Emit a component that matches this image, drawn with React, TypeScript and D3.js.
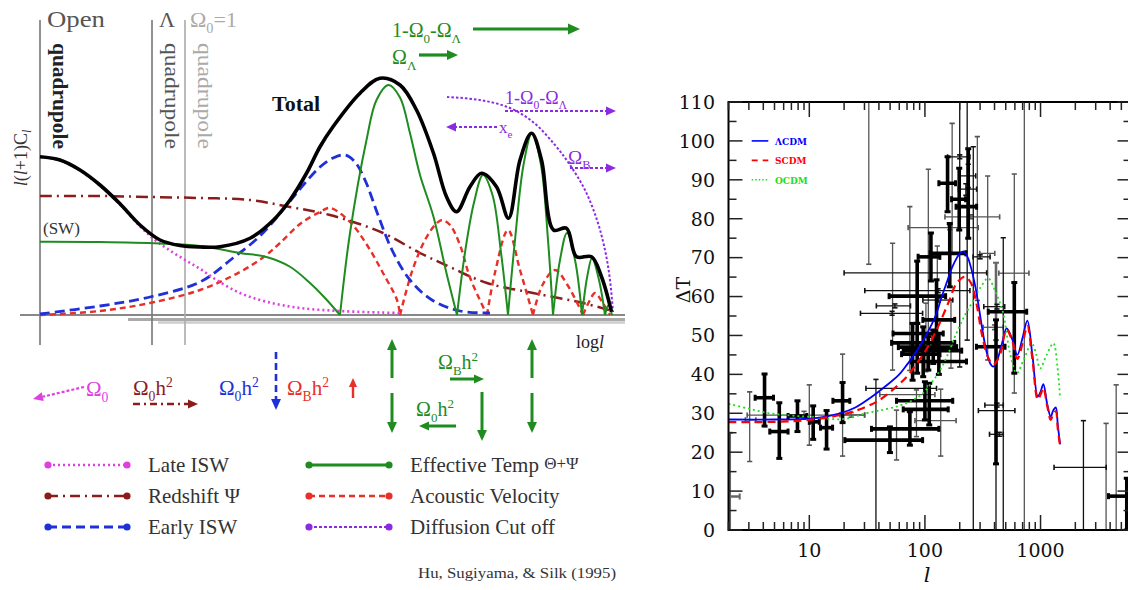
import React from 'react';
import * as d3 from 'd3';

const W = 1128;
const H = 590;

// ================= LEFT PANEL: schematic (Hu, Sugiyama & Silk 1995) =================
// x = log l (arbitrary units), y = l(l+1)C_l (arbitrary units)
const totalCurve = [[0,63.3],[4,62],[8,58],[12,52],[16,44.5],[20,36],[24,30],[28,27.8],[32,27.2],[36,27.3],[42,30.7],[46.7,38],[50,46],[53.3,56.7],[56,67.3],[58.6,75.3],[64,88.7],[68,94.7],[72,92],[75.3,82],[78.7,64.7],[81.3,47.3],[83.3,41.3],[86,51.3],[88.3,56.7],[91.3,51.3],[93.7,38.7],[96,62],[98.3,72.7],[100.3,62],[102.7,34],[105.3,34.7],[107.3,23.3],[110.3,23.3],[112.3,15.3],[114.3,1.3]];
const lateISW = [[0,63.2],[4,61.8],[8,57.8],[12,51.8],[16,44.2],[20,35.5],[23,30],[26,25.8],[29.2,21.8],[32,18.5],[35.3,14],[40,8.8],[45.3,5.3],[52,2.8],[60,1.6],[68,1],[72,0.8]];
const redshiftPsi = [[0,47.6],[12,47.6],[22,47.2],[32,46.8],[42,46],[50,43.2],[58,40],[68.6,32.8],[76,24.8],[82,19.2],[89.4,12.8],[98.6,8.8],[108.6,4.8],[114.4,1.6]];
const earlyISW = [[0,0.4],[12,3.6],[22,7.2],[32,13.2],[38.6,22.8],[44,31.6],[49.4,44],[53,52.8],[56,59.2],[58.6,62.8],[61,64],[63,61.2],[65,54],[67.6,40],[70.4,26],[74,14],[78.4,6],[84,1.6],[90,0.8]];
const effectiveTemp = [[0,29.3],[12,29.2],[24,28.6],[32,27.6],[40,24.8],[45.3,23.2],[50,19.3],[54,12.8],[57,6.8],[60,0],[62,32.8],[65.3,70],[67.3,86],[69.7,92],[72,87],[74,72.7],[76,56],[78.7,39.3],[81.3,16.7],[83.4,0],[85,25],[86.8,45],[88.6,56],[90.5,48],[92.2,25],[93.6,0],[95,30],[96.7,60],[98.4,72.8],[100.2,60],[101.6,30],[102.6,0],[104,22],[105.4,32.8],[107,22],[108.4,0],[109.5,16],[110.4,22.8],[111.8,14],[113,0],[113.7,4],[114.4,0]];
const acousticVelocity = [[0,0],[12,1.6],[22,4.8],[32,10],[40,17.2],[45,23.6],[48,28.8],[52,36.4],[56,41.2],[58,42.8],[62,37.2],[65.4,28],[68.6,16.8],[71.4,6],[72,0],[74.5,18],[77,30],[79,36],[80.4,38],[82,36],[84,28],[86,15],[89.4,0],[91,17],[93.6,34],[96,18],[98.6,0],[100.5,12],[103,18],[105.5,12],[108.6,0],[110,6],[111,8.8],[112.5,5],[114,0]];
const diffusionCutoff = [[81.4,87.2],[88,86],[94,82.8],[98.6,77.2],[103,68],[106,60],[109,50],[111.4,38],[113,26],[114,14],[114.6,1.2]];
const quadrupoleAt = [0, 22.4, 29];
const quadrupoleColors = ['#222', '#555', '#aaa'];
const legendLeftNames = ['Late ISW', 'Redshift Ψ', 'Early ISW'];
const legendRightNames = ['Effective Temp ', 'Acoustic Velocity', 'Diffusion Cut off'];

const C_MAG = '#e040e0';
const C_BRN = '#8b1c1c';
const C_BLU = '#2030d8';
const C_GRN = '#1e8c1e';
const C_RED = '#e63028';
const C_PUR = '#8a2be2';

// ================= RIGHT PANEL: CMB ΔT vs l =================
const lDomain = [2, 6000];
const tDomain = [0, 110];
const xTickLabels = [10, 100, 1000];
const modelNames = ['ΛCDM', 'SCDM', 'OCDM'];
const modelColors = ['#0000ff', '#ff0000', '#22dd22'];

const lcdmCurve = [[2,28.4],[5,28.4],[10,28.6],[18.4,30],[25,31.5],[35.7,34.5],[45,36.8],[60,40],[70,42.5],[85,46],[100,49.5],[115,53],[126,55.7],[140,60],[154,63.5],[175,68],[200,71],[215,71.6],[235,70],[250,67.5],[271,63],[290,58],[310,52.5],[340,46],[370,42.6],[390,42],[420,43.5],[460,47.5],[509,51.8],[570,49],[630,45],[700,49.5],[769,53.8],[850,45],[946,34.3],[1000,35.5],[1058,37.5],[1140,32.5],[1225,29.1],[1290,30.8],[1354,31.5],[1410,27],[1476,22]];
const scdmCurve = [[2,27.7],[5,27.8],[10,28.3],[20,29.8],[30,31.5],[40,33.3],[60,37.5],[74,40.3],[85,42.8],[100,45.8],[126,51.4],[160,58.5],[188,63.4],[222,65.1],[250,63.5],[280,58],[310,50.5],[350,44.5],[390,42.5],[445,45],[509,51.5],[570,48.5],[630,44],[700,48],[769,52.5],[850,44],[946,33.5],[1000,34.8],[1058,36.5],[1140,32],[1225,28.3],[1290,29.8],[1354,30.5],[1410,26],[1476,21.5]];
const ocdmCurve = [[2,32.4],[3,31.2],[4.5,30],[7,29.4],[10,29.1],[19.5,28.5],[31,30],[45,31],[61,32],[80,33.5],[96,35.1],[115,38],[135,41],[160,45.5],[182,49.7],[220,55],[262,59],[305,62.5],[352,64.7],[410,61],[473,56],[544,45.5],[622,40.3],[720,44],[839,48],[920,45],[991,41.5],[1130,45],[1291,48],[1400,42],[1476,33.8]];

// [l, ΔT, lLow, lHigh, ΔTLow, ΔTHigh]
const boldPoints = [
  [4.1,34,3.4,4.9,26.7,40.1],[5.5,25.3,4.55,6.55,18.4,32.7],[7.9,29.3,6.55,9.5,25.3,33.2],
  [10.8,27.8,10,12.2,23.3,31.9],[14.1,26.3,12.5,15.9,20.8,30.7],[19.4,33.2,16,22.4,27.6,37.9],
  [49.8,23.1,20.3,95.5,19.9,26.5],[74.1,26,34.5,132,21.8,30.4],[100,33.2,56.8,174,28.3,38.1],
  [109,31,64.9,159,27,37.7],[78.2,50.5,53,144,38.5,53.1],[85.7,48.1,51.5,181,40.3,53.1],
  [96.6,47,58.9,188,39.4,52.2],[107,46.1,64.9,208,41.1,49.7],[118,45.2,62.8,135,42.8,51.4],
  [132,43.3,76.6,229,40,50.5],[126,54,96,181,46.3,64.3],[85.7,60.1,49,151,53.1,69.1],
  [112.7,70.2,87.3,134.6,64,76.3],[164,71.1,111,226,62.5,78.8],[157,89.1,132,184,81.8,95.9],
  [198,85,170,225,77.1,93],[237,83.1,186,280,75,98],[412,47.1,279,493,17,54],
  [593,56.1,353,759,40.3,63.6],[5570,8.7,3870,6500,0,13.3],
];
const thinPoints = [
  [37.7,36.4,30.9,126,0,38.7],[200,66.1,20,342,41.9,125],[232,75,232,232,48.8,125],
  [262,49,262,262,0,98.5],[300,70.2,261,366,69.7,70.7],[476,30.7,290,600,0,75.1],
  [412,30,412,412,0,17],[420,32.1,330,476,31.6,32.6],[440,24.6,362,476,24.1,25.1],
  [420,57.4,323,490,56.8,58],[2350,16.1,1309,3700,0,28.1],[130,61.5,30.2,245,61,62],
  [130,59.1,96,174,58.6,59.6],[55,57.6,38,75,57.1,58.1],[52,55.7,27.7,95.5,55.2,56.2],
  [237,91,200,275,88,94],[226,87.6,195,280,86,89],[200,95.9,157,245,95.4,96.4],
];
const grayPoints = [
  [3.05,28.3,2.8,3.45,17.6,35.5],[10,28.7,10,10,21.8,37.3],[9,29.5,2.9,30,28.5,30.5],
  [19.4,33.2,19.4,19.4,19,45.2],[23,29.6,18.4,30.2,29,30.2],[32.7,112,32.7,32.7,68.3,150],
  [52.5,57,52.5,52.5,41.1,73.7],[74,62,74,74,41,83.1],[107,68,107,107,45,92.7],
  [172,88,172,172,71.1,104.5],[128,62,128,128,50,73],[164,77.7,71.6,289,77.2,78.2],
  [250,80.5,149,443,80,81],[284,80,284,284,59,101.1],[349,71.1,298,402,43.7,91],
  [593,56.1,593,593,35.2,91.5],[724,66,436,794,0,125],[400,52.1,319,476,51.5,52.7],
  [102,50,102,102,40.7,58.3],[168,50,168,168,41.6,59.1],[137,28.1,82,186,19,36.2],
  [84.5,34.8,40.7,122,24,36],[56.8,25,56.8,56.8,18,30.8],[3690,12,3690,3690,0,27.4],
  [4510,15,4510,4510,0,37.3],
];
const grayThickPoints = [
  [2.05,8.6,2.0,2.5,0,25],[412,58,412,412,48.8,68.7],
];

const SERIF = "'Liberation Serif', 'Times New Roman', Times, serif";

// ---------- helpers ----------
function Rich({ x, y, s, fs, fill, family = SERIF, weight = 'normal', anchor = 'start', italic = false, transform }: any) {
  const tokens: { t: string; k: string }[] = [];
  let i = 0;
  while (i < s.length) {
    const c = s[i];
    if ((c === '_' || c === '^') && i + 1 < s.length) {
      tokens.push({ t: s[i + 1], k: c === '_' ? 'sub' : 'sup' });
      i += 2;
    } else {
      let t = '';
      while (i < s.length && s[i] !== '_' && s[i] !== '^') { t += s[i]; i++; }
      tokens.push({ t, k: 'n' });
    }
  }
  let level = 0;
  return (
    <text x={x} y={y} fontSize={fs} fill={fill} fontFamily={family} fontWeight={weight} textAnchor={anchor}
      fontStyle={italic ? 'italic' : 'normal'} transform={transform}>
      {tokens.map((tk, idx) => {
        const target = tk.k === 'sub' ? fs * 0.28 : tk.k === 'sup' ? -fs * 0.38 : 0;
        const dy = target - level;
        level = target;
        return <tspan key={idx} dy={dy} fontSize={tk.k === 'n' ? fs : fs * 0.65}>{tk.t}</tspan>;
      })}
    </text>
  );
}

function Arrow({ x1, y1, x2, y2, color, width = 2.5, dash, head = 9 }: any) {
  const ang = Math.atan2(y2 - y1, x2 - x1);
  const hx = x2 - head * Math.cos(ang);
  const hy = y2 - head * Math.sin(ang);
  const px = -Math.sin(ang) * head * 0.45;
  const py = Math.cos(ang) * head * 0.45;
  return (
    <g>
      <line x1={x1} y1={y1} x2={hx} y2={hy} stroke={color} strokeWidth={width} strokeDasharray={dash} />
      <polygon points={`${x2},${y2} ${hx + px},${hy + py} ${hx - px},${hy - py}`} fill={color} />
    </g>
  );
}

function splitAtZeros(pts: number[][]) {
  const segs: number[][][] = [];
  let cur: number[][] = [pts[0]];
  for (let i = 1; i < pts.length; i++) {
    cur.push(pts[i]);
    if (pts[i][1] === 0 && i < pts.length - 1) {
      segs.push(cur);
      cur = [pts[i]];
    }
  }
  segs.push(cur);
  return segs;
}

function LeftPanel() {
  const lx = d3.scaleLinear().domain([0, 115]).range([40, 615]);
  const ly = d3.scaleLinear().domain([0, 100]).range([315, 65]);
  const line = d3.line<number[]>().x(d => lx(d[0])).y(d => ly(d[1])).curve(d3.curveCatmullRom.alpha(0.5));
  const font = SERIF;
  const legendStyles = [
    { c: C_MAG, dash: '2 3', w: 2.5 },
    { c: C_BRN, dash: '10 5 2 5', w: 2.5 },
    { c: C_BLU, dash: '9 5', w: 2.8 },
  ];
  const legendStylesR = [
    { c: C_GRN, dash: undefined, w: 3 },
    { c: C_RED, dash: '6 4', w: 2.5 },
    { c: C_PUR, dash: '3 2', w: 2.2 },
  ];
  const rows = [465, 496, 527];
  return (
    <g>
      {/* baseline */}
      <line x1={lx(-4)} x2={lx(117)} y1={ly(0)} y2={ly(0)} stroke="#888" strokeWidth={2.2} />
      <line x1={lx(17.6)} x2={lx(117)} y1={ly(0) + 4.5} y2={ly(0) + 4.5} stroke="#aaa" strokeWidth={3} />
      <line x1={lx(23.6)} x2={lx(117)} y1={ly(0) + 7.5} y2={ly(0) + 7.5} stroke="#ccc" strokeWidth={2.5} />
      {/* quadrupole lines */}
      {quadrupoleAt.map((u, i) => (
        <line key={i} x1={lx(u)} x2={lx(u)} y1={20} y2={345} stroke={i === 2 ? '#aaa' : '#777'} strokeWidth={1.6} />
      ))}
      {quadrupoleAt.map((u, i) => (
        <text key={'q' + i} transform={`translate(${lx(u) + 13},${43}) rotate(90)`} fontSize={20} fontFamily={font}
          fill={quadrupoleColors[i]} fontWeight={i === 0 ? 'bold' : 'normal'} textLength={106} lengthAdjust="spacingAndGlyphs">quadrupole</text>
      ))}
      <text x={47} y={27} fontSize={24} fontFamily={font} fill="#555" textLength={58} lengthAdjust="spacingAndGlyphs">Open</text>
      <text x={159} y={27} fontSize={22} fontFamily={font} fill="#555">Λ</text>
      <Rich x={190} y={27} s={'Ω_0=1'} fs={22} fill="#aaa" />
      <g transform="translate(27,158) rotate(-90)">
        <text x={0} y={0} fontSize={18} fontFamily={font} fill="#333" textAnchor="middle">
          <tspan fontStyle="italic">l</tspan>(<tspan fontStyle="italic">l</tspan>+1)C<tspan dy={4} fontSize={12} fontStyle="italic">l</tspan>
        </text>
      </g>
      <text x={43} y={234} fontSize={17} fontFamily={font} fill="#333">(SW)</text>

      {/* curves */}
      <path d={line(redshiftPsi) || ''} fill="none" stroke={C_BRN} strokeWidth={2.5} strokeDasharray="12 5 2 5" />
      {splitAtZeros(acousticVelocity).map((s, i) => (
        <path key={'a' + i} d={line(s) || ''} fill="none" stroke={C_RED} strokeWidth={2.4} strokeDasharray="6 4" />
      ))}
      <path d={line(earlyISW) || ''} fill="none" stroke={C_BLU} strokeWidth={2.8} strokeDasharray="10 5" />
      <path d={line(lateISW) || ''} fill="none" stroke={C_MAG} strokeWidth={2.6} strokeDasharray="2 3" />
      {splitAtZeros(effectiveTemp).map((s, i) => (
        <path key={'g' + i} d={line(s) || ''} fill="none" stroke={C_GRN} strokeWidth={2} />
      ))}
      <path d={line(diffusionCutoff) || ''} fill="none" stroke={C_PUR} strokeWidth={2} strokeDasharray="2.5 2" />
      <path d={line(totalCurve) || ''} fill="none" stroke="#000" strokeWidth={3.6} />

      <text x={272} y={111} fontSize={22} fontWeight="bold" fontFamily={font} fill="#111">Total</text>

      {/* top annotations */}
      <Rich x={392} y={37} s={'1-Ω_0-Ω_Λ'} fs={20} fill={C_GRN} />
      <Arrow x1={473} y1={29} x2={580} y2={29} color={C_GRN} width={3.2} head={12} />
      <Rich x={392} y={64} s={'Ω_Λ'} fs={20} fill={C_GRN} />
      <Arrow x1={419} y1={55} x2={458} y2={55} color={C_GRN} width={3.2} head={11} />
      <Rich x={505} y={104} s={'1-Ω_0-Ω_Λ'} fs={18} fill={C_PUR} />
      <Arrow x1={505} y1={111} x2={616} y2={111} color={C_PUR} width={2} dash="3 2" head={10} />
      <Arrow x1={497} y1={127} x2={446} y2={127} color={C_PUR} width={2} dash="3 2" head={10} />
      <Rich x={499} y={133} s={'x_e'} fs={17} fill={C_PUR} />
      <Rich x={568} y={164} s={'Ω_B'} fs={19} fill={C_PUR} />
      <Arrow x1={570} y1={168} x2={616} y2={168} color={C_PUR} width={2} dash="3 2" head={10} />

      <text x={576} y={348} fontSize={18} fontFamily={font} fill="#222">log<tspan fontStyle="italic">l</tspan></text>

      {/* parameter arrows row */}
      <Arrow x1={84} y1={387} x2={33} y2={399} color={C_MAG} width={2.2} dash="3 2" head={10} />
      <Rich x={86} y={396} s={'Ω_0'} fs={21} fill={C_MAG} />
      <Rich x={133} y={395} s={'Ω_0h^2'} fs={21} fill={C_BRN} />
      <Arrow x1={133} y1={404} x2={198} y2={404} color={C_BRN} width={2.4} dash="7 4 2 4" head={10} />
      <Rich x={219} y={395} s={'Ω_0h^2'} fs={21} fill={C_BLU} />
      <Arrow x1={276} y1={352} x2={276} y2={410} color={C_BLU} width={2.6} dash="7 4" head={11} />
      <Rich x={287} y={395} s={'Ω_Bh^2'} fs={21} fill={C_RED} />
      <Arrow x1={353} y1={398} x2={353} y2={378} color={C_RED} width={2.4} head={9} />
      {[392, 532].map(x => (
        <g key={x}>
          <Arrow x1={x} y1={378} x2={x} y2={339} color={C_GRN} width={3} head={11} />
          <Arrow x1={x} y1={393} x2={x} y2={433} color={C_GRN} width={3} head={11} />
        </g>
      ))}
      <Arrow x1={482} y1={392} x2={482} y2={441} color={C_GRN} width={3} head={11} />
      <Rich x={438} y={369} s={'Ω_Bh^2'} fs={20} fill={C_GRN} />
      <Arrow x1={450} y1={379} x2={484} y2={379} color={C_GRN} width={3} head={10} />
      <Rich x={416} y={416} s={'Ω_0h^2'} fs={20} fill={C_GRN} />
      <Arrow x1={456} y1={426} x2={419} y2={426} color={C_GRN} width={3} head={10} />

      {/* legend */}
      {legendLeftNames.map((n, i) => (
        <g key={n}>
          <line x1={48} x2={127} y1={rows[i]} y2={rows[i]} stroke={legendStyles[i].c} strokeWidth={legendStyles[i].w} strokeDasharray={legendStyles[i].dash} />
          <circle cx={48} cy={rows[i]} r={3.6} fill={legendStyles[i].c} />
          <circle cx={127} cy={rows[i]} r={3.6} fill={legendStyles[i].c} />
          <text x={148} y={rows[i] + 7} fontSize={21} fontFamily={font} fill="#333">{n}</text>
        </g>
      ))}
      {legendRightNames.map((n, i) => (
        <g key={n}>
          <line x1={309} x2={389} y1={rows[i]} y2={rows[i]} stroke={legendStylesR[i].c} strokeWidth={legendStylesR[i].w} strokeDasharray={legendStylesR[i].dash} />
          <circle cx={309} cy={rows[i]} r={3.6} fill={legendStylesR[i].c} />
          <circle cx={389} cy={rows[i]} r={3.6} fill={legendStylesR[i].c} />
          <text x={410} y={rows[i] + 7} fontSize={21} fontFamily={font} fill="#333">{n}{i === 0 ? <tspan fontSize={17} dy={-3}>Θ+Ψ</tspan> : null}</text>
        </g>
      ))}
      <text x={418} y={578} fontSize={15} fontFamily={font} fill="#333" textLength={198} lengthAdjust="spacingAndGlyphs">Hu, Sugiyama, &amp; Silk (1995)</text>
    </g>
  );
}

function RightPanel() {
  const x0 = 728.5, x1 = 1131.5, y0 = 530, y1 = 102;
  const xs = d3.scaleLog().domain(lDomain).range([x0, 1130.5]);
  const ys = d3.scaleLinear().domain(tDomain).range([y0, y1]);
  const font = "'DejaVu Serif', serif";
  const curve = d3.line<number[]>().x(d => xs(d[0])).y(d => ys(d[1])).curve(d3.curveCatmullRom.alpha(0.5));

  const yTicks = d3.range(0, 111, 5);
  const xTicks: { v: number; major: boolean }[] = [];
  [1, 10, 100, 1000].forEach(d => {
    for (let k = 1; k <= 9; k++) {
      const v = d * k;
      if (v >= lDomain[0] && v <= lDomain[1]) xTicks.push({ v, major: k === 1 });
    }
  });

  const bar = (p: number[], i: number, stroke: string, w: number, cap: number, capW: number) => {
    const [l, t, lLo, lHi, tLo, tHi] = p;
    const cx = xs(l), cy = ys(t);
    return (
      <g key={i} stroke={stroke} strokeWidth={w}>
        <line x1={cx} x2={cx} y1={ys(tLo)} y2={ys(tHi)} />
        <line x1={cx - cap} x2={cx + cap} y1={ys(tLo)} y2={ys(tLo)} strokeWidth={capW} />
        <line x1={cx - cap} x2={cx + cap} y1={ys(tHi)} y2={ys(tHi)} strokeWidth={capW} />
        {lHi > lLo ? (
          <g>
            <line x1={xs(lLo)} x2={xs(lHi)} y1={cy} y2={cy} />
            <line x1={xs(lLo)} x2={xs(lLo)} y1={cy - cap} y2={cy + cap} strokeWidth={capW} />
            <line x1={xs(lHi)} x2={xs(lHi)} y1={cy - cap} y2={cy + cap} strokeWidth={capW} />
          </g>
        ) : null}
      </g>
    );
  };

  return (
    <g>
      <defs>
        <clipPath id="plotClip">
          <rect x={x0} y={y1} width={x1 - x0} height={y0 - y1} />
        </clipPath>
      </defs>
      <g clipPath="url(#plotClip)">
        {grayThickPoints.map((p, i) => bar(p, i, '#666', 2.6, 3, 2))}
        {grayPoints.map((p, i) => bar(p, i, '#555', 1.3, 2.6, 1.6))}
        {thinPoints.map((p, i) => bar(p, i, '#111', 1.3, 2.6, 1.6))}
        {boldPoints.map((p, i) => bar(p, i, '#000', 3.6, 3, 3))}
        <path d={curve(ocdmCurve) || ''} fill="none" stroke={modelColors[2]} strokeWidth={1.8} strokeDasharray="2 3" />
        <path d={curve(lcdmCurve) || ''} fill="none" stroke={modelColors[0]} strokeWidth={1.8} />
        <path d={curve(scdmCurve) || ''} fill="none" stroke={modelColors[1]} strokeWidth={2.2} strokeDasharray="8 5" />
      </g>
      {/* frame */}
      <rect x={x0} y={y1} width={x1 - x0} height={y0 - y1} fill="none" stroke="#000" strokeWidth={2} />
      {/* y ticks */}
      {yTicks.map(v => {
        const len = v % 10 === 0 ? 14 : 8;
        return (
          <g key={v} stroke="#222" strokeWidth={1.5}>
            <line x1={x0} x2={x0 + len} y1={ys(v)} y2={ys(v)} />
            <line x1={x1} x2={x1 - len} y1={ys(v)} y2={ys(v)} />
          </g>
        );
      })}
      {yTicks.filter(v => v % 10 === 0).map(v => (
        <text key={'yl' + v} x={715} y={ys(v)} dy="0.36em" textAnchor="end" fontSize={19} fontFamily={font} fill="#111">{v}</text>
      ))}
      {/* x ticks */}
      {xTicks.map(t => {
        const len = t.major ? 15 : 8;
        return (
          <g key={t.v} stroke="#222" strokeWidth={1.5}>
            <line x1={xs(t.v)} x2={xs(t.v)} y1={y0} y2={y0 - len} />
            <line x1={xs(t.v)} x2={xs(t.v)} y1={y1} y2={y1 + len} />
          </g>
        );
      })}
      {xTickLabels.map(v => (
        <text key={'xl' + v} x={xs(v)} y={557} textAnchor="middle" fontSize={19} fontFamily={font} fill="#111">{v}</text>
      ))}
      <text transform={`translate(690,290) rotate(-90)`} textAnchor="middle" fontSize={19} fontFamily={font} fill="#111">ΔT</text>
      <text x={927} y={582} textAnchor="middle" fontSize={21} fontFamily={font} fontStyle="italic" fill="#111">l</text>
      {/* legend */}
      {modelNames.map((n, i) => {
        const ly = ys(100 - i * 5);
        return (
          <g key={n}>
            <line x1={751.7} x2={768.3} y1={ly} y2={ly} stroke={modelColors[i]} strokeWidth={1.6}
              strokeDasharray={i === 1 ? '6 5' : i === 2 ? '1.5 2' : undefined} />
            <text x={775} y={ly + 4} fontSize={9} fontWeight="bold" fontFamily={font} fill={modelColors[i]}>{n}</text>
          </g>
        );
      })}
    </g>
  );
}

export default function App() {
  return (
    <svg width={W} height={H} viewBox={`0 0 ${W} ${H}`} style={{ position: 'absolute', left: 0, top: 0, background: '#fff' }}>
      <rect x={0} y={0} width={W} height={H} fill="#fff" />
      <LeftPanel />
      <RightPanel />
    </svg>
  );
}
